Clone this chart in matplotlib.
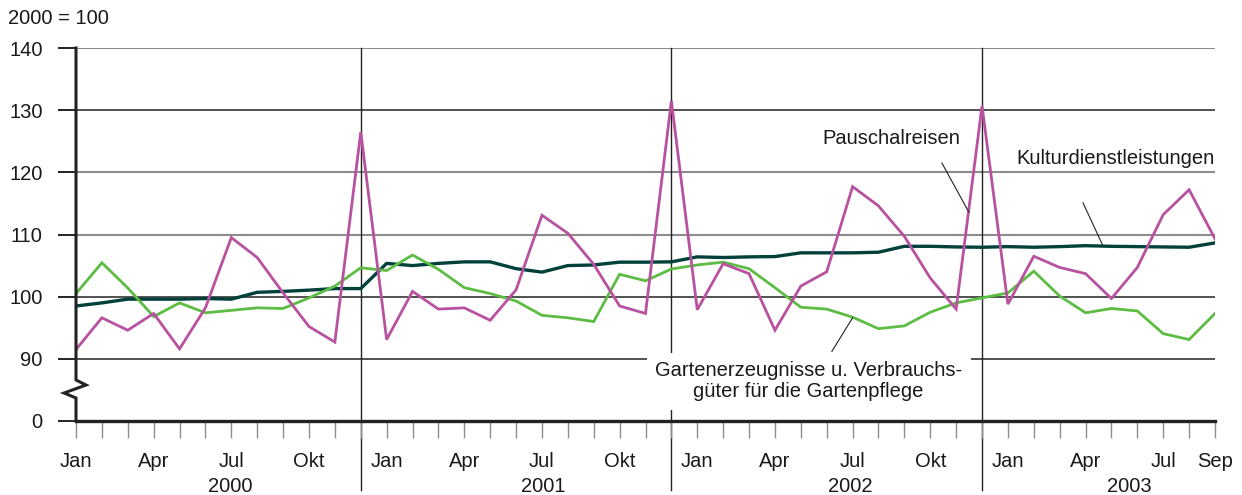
import matplotlib
matplotlib.use("Agg")
import matplotlib.pyplot as plt

plt.rcParams['font.family'] = ['Liberation Sans', 'DejaVu Sans']

# ---------------- data ----------------
months = ['Jan', 'Feb', 'Mrz', 'Apr', 'Mai', 'Jun', 'Jul', 'Aug', 'Sep', 'Okt', 'Nov', 'Dez'] * 3 + \
         ['Jan', 'Feb', 'Mrz', 'Apr', 'Mai', 'Jun', 'Jul', 'Aug', 'Sep']
shown_months = ['Jan', 'Apr', 'Jul', 'Okt']
years = ['2000', '2001', '2002', '2003']

pauschalreisen = [91.5, 96.6, 94.6, 97.3, 91.6, 98.2, 109.5, 106.3, 100.6, 95.2, 92.7, 126.5,
                  93.1, 100.85, 98.0, 98.2, 96.2, 101.1, 113.1, 110.2, 105.2, 98.5, 97.3, 131.5,
                  97.9, 105.3, 103.7, 94.6, 101.7, 104.0, 117.7, 114.6, 109.7, 103.0, 98.0, 130.7,
                  98.8, 106.5, 104.7, 103.7, 99.7, 104.7, 113.2, 117.2, 109.3]
kultur = [98.5, 99.0, 99.6, 99.6, 99.6, 99.7, 99.6, 100.7, 100.85, 101.05, 101.3, 101.3,
          105.35, 105.0, 105.35, 105.6, 105.6, 104.5, 103.95, 105.0, 105.1, 105.55, 105.55, 105.6,
          106.4, 106.3, 106.4, 106.45, 107.05, 107.05, 107.05, 107.15, 108.1, 108.1, 108.0, 107.95,
          108.05, 107.95, 108.05, 108.2, 108.1, 108.05, 108.0, 107.95, 108.65]
garten = [100.5, 105.45, 101.4, 96.8, 99.0, 97.4, 97.8, 98.2, 98.1, 99.8, 101.7, 104.65,
          104.2, 106.7, 104.4, 101.45, 100.5, 99.3, 97.0, 96.6, 96.0, 103.6, 102.55, 104.45,
          105.1, 105.55, 104.5, 101.45, 98.3, 98.0, 96.7, 94.85, 95.3, 97.5, 99.0, 99.8,
          100.6, 104.1, 100.1, 97.4, 98.1, 97.7, 94.05, 93.1, 97.3]

ytick_vals = [80, 90, 100, 110, 120, 130, 140]
ytick_labels = ['0', '90', '100', '110', '120', '130', '140']
grid_colors = {90: '#222222', 100: '#222222', 110: '#8c8c8c', 120: '#8c8c8c', 130: '#222222', 140: '#8c8c8c'}

C_MAG = '#b8519f'
C_TEAL = '#00413c'
C_GREEN = '#5cbc43'
C_TXT = '#1a1a1a'
FS = 14.5

# ---------------- figure ----------------
W, H = 1242, 495
fig = plt.figure(figsize=(W / 100, H / 100), dpi=100)
L, R, T, B = 76, 1215, 48, 421
ax = fig.add_axes([L / W, 1 - B / H, (R - L) / W, (B - T) / H])
ax.set_xlim(0, len(months) - 1)
ax.set_ylim(80, 140)

x = list(range(len(months)))

# grid lines (horizontal)
for v, c in grid_colors.items():
    ax.axhline(v, color=c, lw=1.5 if c != '#222222' else 1.1, zorder=1)

# year separators (December positions)
for i, m in enumerate(months):
    if m == 'Dez':
        ax.axvline(i, ymin=-0.185, ymax=1, color='#222222', lw=1.0, clip_on=False, zorder=1)

# data lines
ax.plot(x, kultur, color=C_TEAL, lw=2.4, zorder=3, solid_joinstyle='miter')
ax.plot(x, garten, color=C_GREEN, lw=2.0, zorder=3, solid_joinstyle='miter')
ax.plot(x, pauschalreisen, color=C_MAG, lw=2.0, zorder=4, solid_joinstyle='miter')

# spines
for s in ['top', 'right', 'left']:
    ax.spines[s].set_visible(False)
ax.spines['bottom'].set_linewidth(2.4)
ax.spines['bottom'].set_color('#222222')
ax.spines['bottom'].set_zorder(5)

# left axis with break mark (axes fraction coordinates)
ax.plot([0, 0, 0.0088, -0.0105, 0, 0], [1, 0.11, 0.0965, 0.075, 0.0617, 0],
        transform=ax.transAxes, color='#222222', lw=2.2, clip_on=False, zorder=6,
        solid_joinstyle='miter')

# y ticks
ax.set_yticks(ytick_vals)
ax.set_yticklabels(ytick_labels, fontsize=FS, color=C_TXT)
ax.tick_params(axis='y', length=13, width=1.2, pad=11)
for t, v in zip(ax.yaxis.get_major_ticks(), ytick_vals):
    t.tick1line.set_color(grid_colors.get(v, '#222222'))

# x ticks
ax.set_xticks(x)
xlabels = [m if (m in shown_months) else '' for m in months]
xlabels[-1] = months[-1]
ax.set_xticklabels(xlabels, fontsize=FS, color=C_TXT)
ax.tick_params(axis='x', length=12.5, width=1.0, color='#8c8c8c', pad=9.5)

# year labels
year_pos = [5.95, 18.05, 29.9, 40.7]
for yp, yl in zip(year_pos, years):
    ax.text(yp, -0.176, yl, transform=ax.get_xaxis_transform(), ha='center', va='center',
            fontsize=FS, color=C_TXT)

# unit label
fig.text(8 / W, 1 - 18 / H, '2000 = 100', fontsize=FS, color=C_TXT, ha='left', va='center')

# annotations
ax.text(28.85, 125.4, 'Pauschalreisen', fontsize=FS, color=C_TXT, ha='left', va='center', zorder=7)
ax.plot([33.45, 34.49], [121.5, 113.6], color='#222222', lw=0.8, zorder=7)

ax.text(44, 122.3, 'Kulturdienstleistungen', fontsize=FS, color=C_TXT, ha='right', va='center', zorder=7)
ax.plot([38.9, 39.67], [115.1, 108.2], color='#222222', lw=0.8, zorder=7)

ax.text(28.3, 86.4, 'Gartenerzeugnisse u. Verbrauchs-\ngüter für die Gartenpflege', fontsize=FS,
        color=C_TXT, ha='center', va='center', multialignment='center', linespacing=1.15, zorder=7,
        bbox=dict(boxstyle='square,pad=0.42', fc='white', ec='none'))
ax.plot([29.2, 30.0], [91.2, 96.6], color='#222222', lw=0.8, zorder=7)

fig.savefig('out.png', dpi=100)
